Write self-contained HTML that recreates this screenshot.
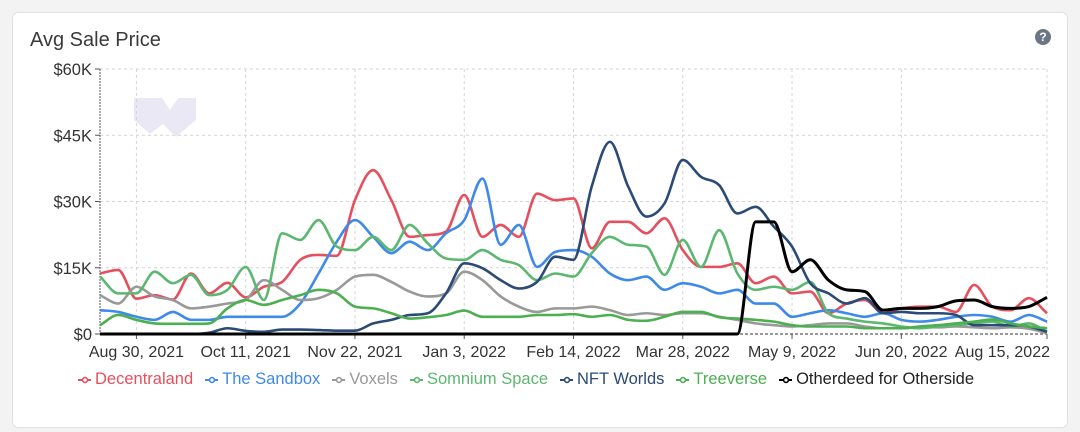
<!DOCTYPE html>
<html><head><meta charset="utf-8">
<style>
html,body{margin:0;padding:0;background:#f3f3f3;width:1080px;height:432px;overflow:hidden;font-family:"Liberation Sans",sans-serif;}
.card{position:absolute;left:12px;top:12px;width:1054px;height:414px;background:#fff;border:1px solid #e2e2e2;border-radius:6px;}
.title{position:absolute;left:30px;top:29px;font-size:20px;color:#3a3a3a;}
.help{position:absolute;left:1035px;top:29px;width:16px;height:16px;border-radius:50%;background:#6b7785;color:#fff;font-size:12px;font-weight:bold;text-align:center;line-height:16px;}
.legend{position:absolute;left:78px;top:370px;font-size:16.5px;white-space:nowrap;}
.li{display:inline-block;margin-right:12px;}
.li svg{vertical-align:middle;margin-right:4px;}
</style></head><body>
<div class="card"></div>
<div class="title">Avg Sale Price</div>
<div class="help">?</div>
<svg id="chart" width="1080" height="432" style="position:absolute;left:0;top:0"></svg>
<div class="legend" id="legend"></div>
<script>
const categories = ["Aug 16, 2021","","Aug 30, 2021","","","","","","Oct 11, 2021","","","","","","Nov 22, 2021","","","","","","Jan 3, 2022","","","","","","Feb 14, 2022","","","","","","Mar 28, 2022","","","","","","May 9, 2022","","","","","","Jun 20, 2022","","","","","","","","Aug 15, 2022"];
const tickIndices = [2,8,14,20,26,32,38,44,52];
const yTickLabels = ["$0","$15K","$30K","$45K","$60K"];
const yTickValues = [0,15,30,45,60];
const seriesNames = ["Decentraland","The Sandbox","Voxels","Somnium Space","NFT Worlds","Treeverse","Otherdeed for Otherside"];
const seriesColors = ["#e5505e","#3f8ae8","#999999","#5cb870","#2b4a75","#4caf50","#000000"];
const decentraland = [13.7,14.5,8,8.8,7.8,13.7,9.2,11.6,8.3,10.7,11.8,16.8,17.9,17.7,30.3,37.1,30.3,22,22.4,23.2,31.5,22,24.7,22,31.8,30.3,30.7,19.4,25.4,25.4,22.8,26.2,19,15.2,15.2,16,11.5,13,9.2,9.6,4.7,6.9,7.7,4.7,5.8,6.2,6.2,5,11.1,6.2,5.4,8.1,4.7];
const sandbox = [5.4,5,3.9,3.2,5,3.2,3.2,3.9,3.9,3.9,3.9,6.9,13.7,20.9,25.8,22,18.3,20.9,19,22.8,25.8,35.2,20.2,24.7,15.2,18.6,19,17.5,13.7,12.2,13,10,11.5,10.7,9.2,10,6.9,6.9,3.9,4.7,5.4,4.7,3.9,4.7,3.2,2.8,3.2,3.9,4.3,3.9,2.8,4.3,2.8];
const voxels = [8.8,6.9,10.7,8.5,7.7,5.8,6.2,6.9,7.7,12.2,10,7.7,8.1,10,13,13.4,11.8,9.6,8.5,9.2,14.1,12.2,8.5,6.2,5,5.8,5.8,6.2,5.4,4.3,4.7,4.3,4.7,4.7,3.9,3.2,2.4,2,1.7,2,2.4,2.4,1.7,1.3,1.3,1.5,1.5,1.7,1.5,1.3,1.5,1.2,0.2];
const somnium = [13,9.2,9.2,14.1,11.5,13.4,8.8,10,15.2,7.7,22.8,21.3,25.8,19.8,19,22,19,24.7,20.5,17.1,16.8,19,16.8,15.6,12.2,13.7,13,18.3,22,20.2,19.8,13.4,21.3,15.2,23.5,13.7,10,10.7,10,11.8,4.7,3.5,2.8,2.4,1.7,1.3,1.7,2,2.4,2.8,1.7,2.4,0.5];
const nftWorlds = [0,0,0,0,0,0,0.3,1.3,0.7,0.5,1,1,0.9,0.75,0.75,2.4,3.2,4.3,4.7,9.2,16,14.9,12.2,10.3,11.8,17.5,16.8,33.4,43.5,33.4,26.6,29.6,39.4,35.6,33.7,27.3,28.8,24.3,19.8,11.5,9.2,6.9,8.1,4.7,5,4.7,4.7,4.3,2,2,2,1.7,0.5];
const treeverse = [2,4.3,3.2,2.4,2.3,2.3,2.4,5.8,7.7,6.6,7.7,8.8,10,9.2,6.2,5.8,4.7,3.5,3.8,4.3,5.3,3.9,3.9,3.9,4.3,4.3,4.5,3.9,4.3,3.2,3,3.9,5,5,3.8,3.5,3.2,2.8,2,1.7,1.7,1.7,1.3,1.3,1.3,1.7,2,2.4,2.8,3.3,2.4,1.7,1.3];
const otherdeed = [0,0,0,0,0,0,0,0,0,0,0,0,0,0,0,0,0,0,0,0,0,0,0,0,0,0,0,0,0,0,0,0,0,0,0,0,25.4,25.4,14.1,16.8,12.2,10,9.6,5.4,5.8,5.8,6.2,7.5,7.7,6.2,5.8,6.2,8.3];
const allSeries = [decentraland,sandbox,voxels,somnium,nftWorlds,treeverse,otherdeed];

const X0=100,X1=1047,Y0=334,Y1=69,YMAX=60;
const xs=i=>X0+(X1-X0)*i/(categories.length-1);
const ys=v=>Y0-(Y0-Y1)*v/YMAX;
const NS="http://www.w3.org/2000/svg";
const svg=document.getElementById('chart');
function mk(t,a,p){const e=document.createElementNS(NS,t);for(const k in a)e.setAttribute(k,a[k]);(p||svg).appendChild(e);return e;}

const wm=mk('path',{d:'M134,98 L162,98 L170,110 L178,98 L196,98 L196,120 L176,137 L163,124 L150,134 L134,120 Z',fill:'#ebe8f6'});



yTickValues.forEach((v,k)=>{
  if(v>0){const g=mk('line',{x1:X0,x2:X1,y1:ys(v),y2:ys(v),stroke:'#d4d4d4','stroke-dasharray':'3,3'});
  
  }
  const t=mk('text',{x:92,y:ys(v)+6,'text-anchor':'end','font-size':'16.5',fill:'#333'});
  t.textContent=yTickLabels[k];
  
  
  mk('line',{x1:95,x2:X0,y1:ys(v),y2:ys(v),stroke:'#555'});
});
tickIndices.forEach((i,j)=>{
  const g=mk('line',{x1:xs(i),x2:xs(i),y1:Y1,y2:Y0,stroke:'#d4d4d4','stroke-dasharray':'3,3'});
  
  
  mk('line',{x1:xs(i),x2:xs(i),y1:Y0,y2:Y0+5,stroke:'#555'});
  const last=j===tickIndices.length-1;
  const t=mk('text',{x:last?xs(i)+3:xs(i),y:357,'text-anchor':last?'end':'middle','font-size':'16',fill:'#333'});
  t.textContent=categories[i];
  
  
});
mk('line',{x1:X1,x2:X1,y1:Y1,y2:Y0,stroke:'#d4d4d4','stroke-dasharray':'3,3'});
const ya=mk('line',{x1:X0,x2:X0,y1:Y1,y2:Y0,stroke:'#555','stroke-dasharray':'2,1'});


const xa=mk('line',{x1:X0,x2:X1,y1:Y0,y2:Y0,stroke:'#333','stroke-dasharray':'3,2'});



function pathFor(d){
  const n=d.length,px=d.map((_,i)=>xs(i)),py=d.map(ys);
  const dl=[],m=[];
  for(let i=0;i<n-1;i++)dl.push((py[i+1]-py[i])/(px[i+1]-px[i]));
  m[0]=dl[0];m[n-1]=dl[n-2];
  for(let i=1;i<n-1;i++){m[i]=(dl[i-1]*dl[i]<=0)?0:(dl[i-1]+dl[i])/2;}
  for(let i=0;i<n-1;i++){if(dl[i]===0){m[i]=0;m[i+1]=0;continue;}
    const a=m[i]/dl[i],b=m[i+1]/dl[i],s=a*a+b*b;if(s>9){const t=3/Math.sqrt(s);m[i]=t*a*dl[i];m[i+1]=t*b*dl[i];}}
  let p='M'+px[0]+','+py[0];
  for(let i=0;i<n-1;i++){const h=(px[i+1]-px[i])/3;
    p+=' C'+(px[i]+h)+','+(py[i]+m[i]*h)+' '+(px[i+1]-h)+','+(py[i+1]-m[i+1]*h)+' '+px[i+1]+','+py[i+1];}
  return p;
}
allSeries.forEach((d,k)=>{
  const p=mk('path',{d:pathFor(d),fill:'none',stroke:seriesColors[k],'stroke-width':k===6?3:2.6,'stroke-linejoin':'round'});
  
  
});

const lg=document.getElementById('legend');
seriesNames.forEach((n,k)=>{
  const s=document.createElement('span');
  s.className='li';s.style.color=k===6?'#222':seriesColors[k];
  
  
  s.innerHTML='<svg width="13" height="8"><line x1="0" y1="4" x2="13" y2="4" stroke="'+seriesColors[k]+'" stroke-width="2"/><circle cx="7" cy="4" r="2.4" fill="#fff" stroke="'+seriesColors[k]+'" stroke-width="1.6"/></svg>'+n;
  lg.appendChild(s);
});
</script>
</body></html>
